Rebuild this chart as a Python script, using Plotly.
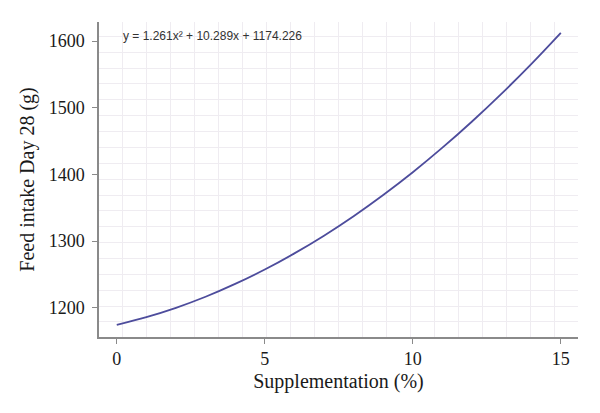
import plotly.graph_objects as go

# Values
supplementation = [0, 1, 2, 3, 4, 5, 6, 7, 8, 9, 10, 11, 12, 13, 14, 15]
feed_intake = [1174.2, 1185.8, 1199.8, 1216.4, 1235.6, 1257.2, 1281.4, 1308.0,
               1337.2, 1369.0, 1403.2, 1440.0, 1479.3, 1521.1, 1565.4, 1612.3]
x_ticks = [0, 5, 10, 15]
y_ticks = [1200, 1300, 1400, 1500, 1600]
equation = "y = 1.261x² + 10.289x + 1174.226"

fig = go.Figure()
fig.add_trace(go.Scatter(
    x=supplementation, y=feed_intake, mode="lines",
    line=dict(color="#4d4c9c", width=1.8, shape="spline"),
    showlegend=False, hoverinfo="skip",
))

serif = "Liberation Serif, Times New Roman, serif"
axis_common = dict(
    showline=True, linecolor="#8a8a8a", linewidth=1.5,
    ticks="outside", ticklen=5, tickwidth=1.2, tickcolor="#8a8a8a",
    showgrid=False, zeroline=False,
    tickfont=dict(family=serif, size=18, color="#1a1a1a"),
)

fig.update_layout(
    width=600, height=413,
    margin=dict(l=99, r=22, t=22, b=76),
    paper_bgcolor="white", plot_bgcolor="white",
    xaxis=dict(
        **axis_common,
        range=[-0.6, 15.58], tickvals=x_ticks,
        title=dict(text="Supplementation (%)", font=dict(family=serif, size=20, color="#1a1a1a"), standoff=6),
        minor=dict(tick0=0.2, dtick=0.811, showgrid=True, gridcolor="#efecf1", gridwidth=1, ticks=""),
    ),
    yaxis=dict(
        **axis_common,
        range=[1156, 1628.5], tickvals=y_ticks,
        ticklabelstandoff=4,
        title=dict(text="Feed intake Day 28 (g)", font=dict(family=serif, size=20, color="#1a1a1a"), standoff=9),
        minor=dict(tick0=1178.6, dtick=23.8, showgrid=True, gridcolor="#efecf1", gridwidth=1, ticks=""),
    ),
    annotations=[dict(
        text=equation, xref="paper", yref="paper", x=0.046, y=0.956,
        xanchor="left", yanchor="middle", showarrow=False,
        font=dict(family="Liberation Sans, Arial, sans-serif", size=12, color="#333333"),
    )],
)

fig.write_html("out.html")
